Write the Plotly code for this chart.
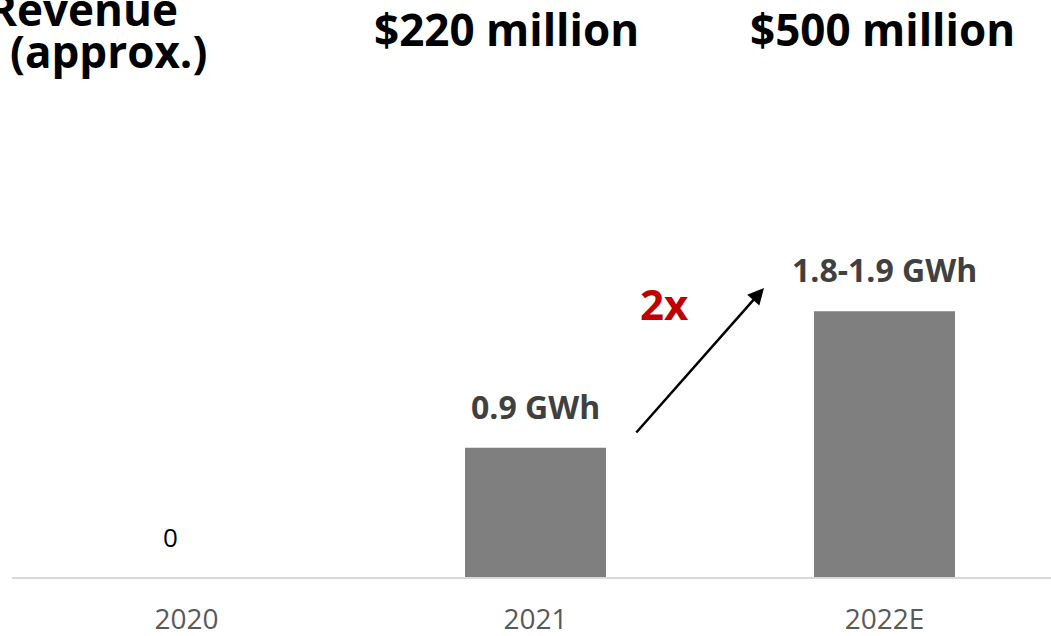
import plotly.graph_objects as go

# Battery capacity by year, with revenue headline figures
years = ["2020", "2021", "2022E"]
capacity_gwh = [0, 0.9, 1.85]
capacity_labels = ["0", "0.9 GWh", "1.8-1.9 GWh"]
revenue_header = ["Revenue", "(approx.)"]
revenue_labels = ["$220 million", "$500 million"]
growth_label = "2x"

FONT = "Open Sans"
W, H = 1051, 636
L, R, T, B = 12, 0, 100, 59
PW, PH = W - L - R, H - T - B
BAND = 349  # pixels per category


def px(x):
    return (x - L) / PW


def py(y):
    return (H - B - y) / PH


fig = go.Figure(
    go.Bar(
        x=years,
        y=capacity_gwh,
        width=0.404,
        marker=dict(color="#7f7f7f", line=dict(width=0)),
        hoverinfo="skip",
    )
)

annotations = []

# value labels above each bar (category index keeps numeric-looking years as categories)
for i, (val, lab) in enumerate(zip(capacity_gwh, capacity_labels)):
    if val == 0:
        annotations.append(dict(
            x=i, y=val, xref="x", yref="y", text=lab, showarrow=False,
            yanchor="bottom", xshift=-16, yshift=20,
            font=dict(family=FONT, size=26, color="#000000"),
        ))
    else:
        annotations.append(dict(
            x=i, y=val, xref="x", yref="y", text="<b>%s</b>" % lab,
            showarrow=False, yanchor="bottom", yshift=18,
            font=dict(family=FONT, size=32, color="#404040"),
        ))

# revenue row header
annotations.append(dict(
    x=px(180), y=py(9), xref="paper", yref="paper",
    text="<b>%s</b>" % revenue_header[0], showarrow=False,
    xanchor="right", yanchor="middle",
    font=dict(family=FONT, size=44, color="#000000"),
))
annotations.append(dict(
    x=px(8), y=py(51), xref="paper", yref="paper",
    text="<b>%s</b>" % revenue_header[1], showarrow=False,
    xanchor="left", yanchor="middle",
    font=dict(family=FONT, size=44, color="#000000"),
))

# revenue figures
for cx, lab in zip([506.5, 882.5], revenue_labels):
    annotations.append(dict(
        x=px(cx), y=py(29), xref="paper", yref="paper",
        text="<b>%s</b>" % lab, showarrow=False,
        xanchor="center", yanchor="middle",
        font=dict(family=FONT, size=44, color="#000000"),
    ))

# growth arrow and multiplier
annotations.append(dict(
    x=px(764), y=py(288), xref="paper", yref="paper",
    ax=-129, ay=146, text="", showarrow=True,
    arrowhead=2, arrowsize=1.3, arrowwidth=2.5, arrowcolor="#000000",
    standoff=0, startstandoff=0,
))
annotations.append(dict(
    x=px(664), y=py(303), xref="paper", yref="paper",
    text="<b>%s</b>" % growth_label, showarrow=False,
    xanchor="center", yanchor="middle",
    font=dict(family=FONT, size=42, color="#c00000"),
))

fig.update_layout(
    width=W, height=H,
    margin=dict(l=L, r=R, t=T, b=B, pad=0),
    paper_bgcolor="white", plot_bgcolor="white",
    showlegend=False,
    annotations=annotations,
    xaxis=dict(
        type="category",
        range=[-0.5, -0.5 + PW / BAND],
        showgrid=False, zeroline=False,
        showline=True, linecolor="#d9d9d9", linewidth=2,
        ticks="", ticklabelstandoff=16, automargin=False,
        tickfont=dict(family=FONT, size=28, color="#595959"),
        fixedrange=True,
    ),
    yaxis=dict(
        range=[0, PH / 143.6],
        visible=False, showgrid=False, zeroline=False,
        automargin=False, fixedrange=True,
    ),
)

fig.write_html("out.html")
